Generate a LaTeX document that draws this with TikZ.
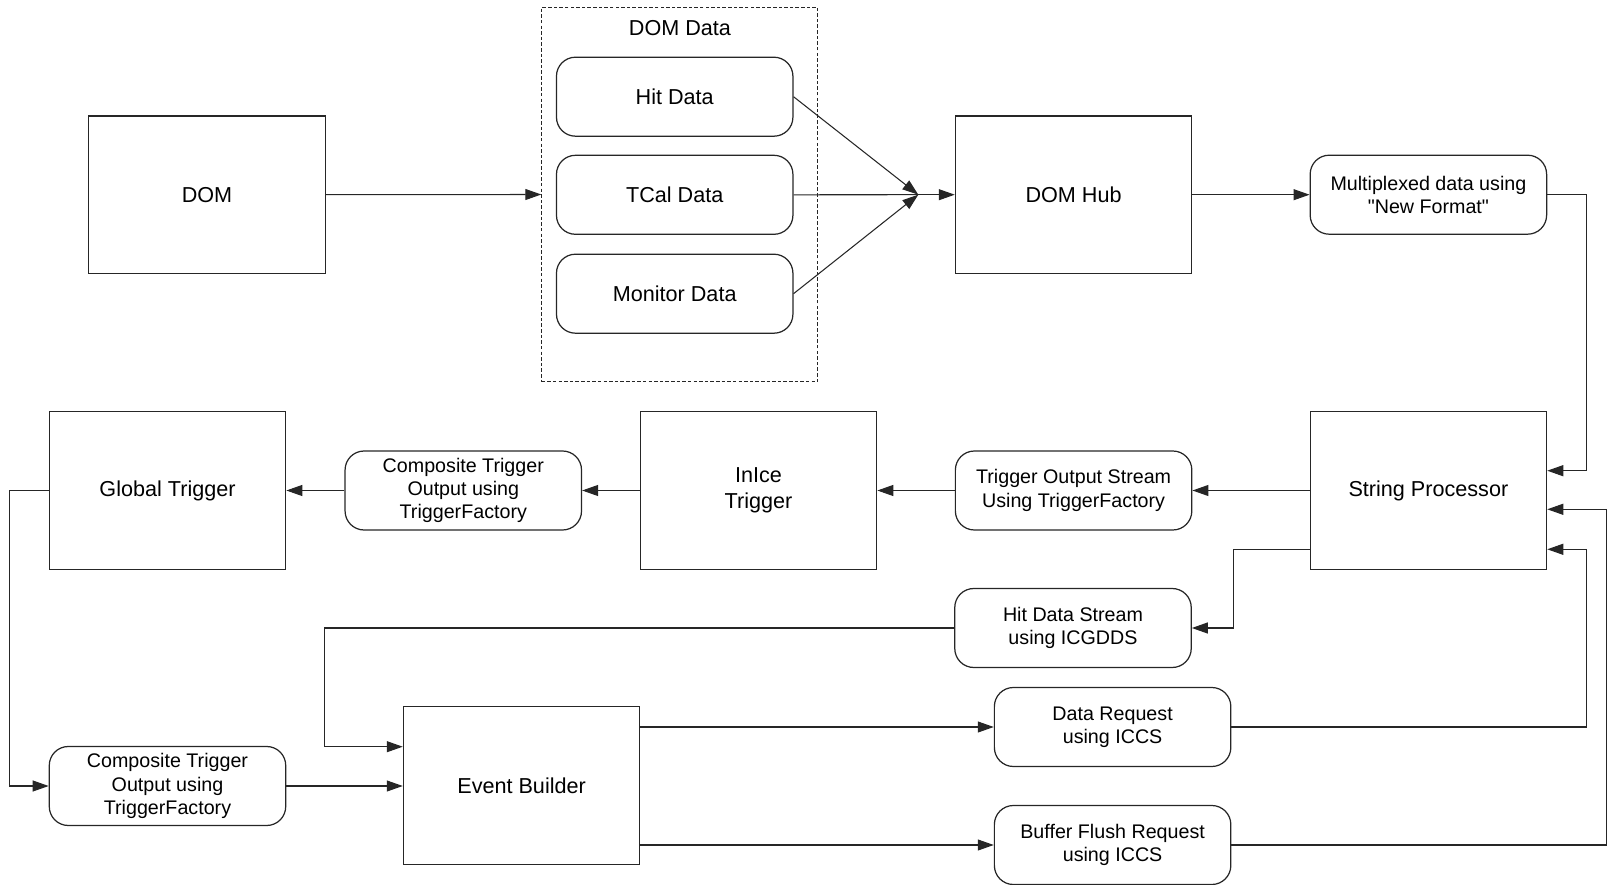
\documentclass[tikz,border=0pt]{standalone}
\usepackage{fontspec}
\setmainfont{Liberation Sans}
\usetikzlibrary{calc,arrows.meta}
\definecolor{ink}{HTML}{262626}
\tikzset{blk/.style={draw=ink,line width=.7pt,minimum width=4.73cm,minimum height=3.15cm,align=center,font=\fontsize{12.3}{14.5}\selectfont},
rbox/.style={draw=ink,line width=.7pt,rounded corners=.38cm,minimum width=4.73cm,minimum height=1.58cm,inner ysep=1pt,align=center,font=\fontsize{11.2}{13.3}\selectfont},
dbox/.style={rbox,font=\fontsize{12.3}{14.5}\selectfont},
dashbox/.style={draw=ink,line width=.5pt,dash pattern=on 2pt off 1.2pt,minimum width=5.52cm,minimum height=7.49cm},
lbl/.style={font=\fontsize{12.3}{14.5}\selectfont},
arr/.style={ink,line width=.6pt,-{Triangle[length=.32cm,width=.22cm]}},
ln/.style={ink,line width=.6pt}}

\begin{document}
\begin{tikzpicture}[x=.02cm,y=-.02cm]
\useasboundingbox (0,0) rectangle (1607,885);
\node[blk] (dom) at (207,194.7){DOM};
\node[dashbox] (domdata) at (679.7,194.5){};\node[lbl] (domlbl) at (680,28){DOM Data};
\node[dbox] (hit) at (674.7,96.7){Hit Data};\node[dbox] (tcal) at (674.7,194.8){TCal Data};\node[dbox] (mon) at (674.7,293.7){Monitor Data};
\coordinate (j) at (918.3,194.7);
\node[blk] (hub) at (1073.6,194.7){DOM Hub};
\node[rbox] (mux) at (1428.4,194.7){Multiplexed data using\\\textquotedbl New Format\textquotedbl};
\node[blk] (sp) at (1428.4,490.5){String Processor};
\node[rbox] (tos) at (1073.6,490.5){Trigger Output Stream\\Using TriggerFactory};
\node[blk] (inice) at (758.5,490.5){InIce\\Trigger};
\node[rbox] (ctop) at (463.3,490.5){Composite Trigger\\Output using\\TriggerFactory};
\node[blk] (gt) at (167.5,490.5){Global Trigger};
\node[rbox] (cbot) at (167.5,786){Composite Trigger\\Output using\\TriggerFactory};
\node[blk] (eb) at (521.6,785.5){Event Builder};
\node[rbox] (hds) at (1073,628){Hit Data Stream\\using ICGDDS};
\node[rbox] (dreq) at (1112.6,727){Data Request\\using ICCS};
\node[rbox] (bflush) at (1112.6,845){Buffer Flush Request\\using ICCS};
\draw[arr] (dom.east) -- (domdata.west);
\draw[arr] (hit.east) -- (j);\draw[ln] (tcal.east) -- (j);\draw[arr] (mon.east) -- (j);\draw[arr] (j) -- (hub.west);
\draw[arr] (hub.east) -- (mux.west);
\draw[arr] (mux.east) -- ++(39.3,0) |- ($(sp.east)+(0,-19.8)$);
\draw[arr] (sp.west) -- (tos.east);\draw[arr] (tos.west) -- (inice.east);\draw[arr] (inice.west) -- (ctop.east);\draw[arr] (ctop.west) -- (gt.east);
\draw[arr] (gt.west) -- ++(-39.5,0) |- (cbot.west);
\draw[arr] (cbot.east) -- (cbot.east -| eb.west);
\draw[arr] ($(sp.west)+(0,58.8)$) -- ++(-76.4,0) |- (hds.east);
\draw[arr] (hds.west) -- ++(-629.8,0) |- ($(eb.west)+(0,-38.8)$);
\draw[arr] (dreq.west -| eb.east) -- (dreq.west);
\draw[arr] (dreq.east) -- ++(355,0) |- ($(sp.east)+(0,58.8)$);
\draw[arr] (bflush.west -| eb.east) -- (bflush.west);
\draw[arr] (bflush.east) -- ++(375,0) |- ($(sp.east)+(0,18.8)$);
\end{tikzpicture}
\end{document}
